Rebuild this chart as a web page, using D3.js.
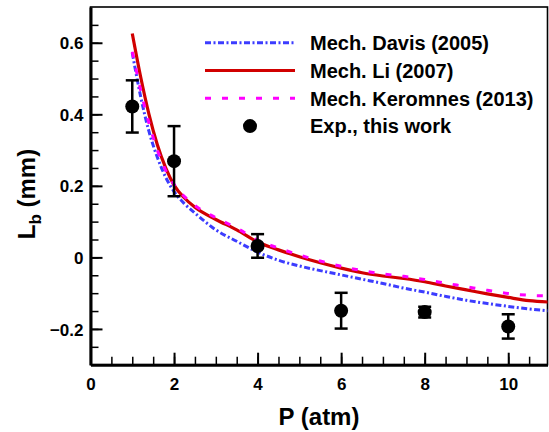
<!DOCTYPE html>
<html>
<head>
<meta charset="utf-8">
<script src="https://cdn.jsdelivr.net/npm/d3@7"></script>
<style>
  html, body { margin: 0; padding: 0; background: #fff; }
  svg { display: block; font-family: Arial, "Liberation Sans", Helvetica, sans-serif; font-weight: bold; }
</style>
</head>
<body>
<svg id="chart" width="549" height="432"></svg>
<script>
// Pressure grid (atm) for the model curves
const pressure = [1.0, 1.2, 1.4, 1.6, 1.8, 2.0, 2.25, 2.5, 3.0, 3.5, 4.0, 4.5, 5.0, 5.5, 6.0, 6.5, 7.0, 7.5, 8.0, 8.5, 9.0, 9.5, 10.0, 10.5, 11.0];

// Markstein length Lb (mm) predicted by each mechanism
const davis2005    = [0.572, 0.450, 0.352, 0.280, 0.224, 0.184, 0.150, 0.124, 0.077, 0.045, 0.015, -0.008, -0.024, -0.037, -0.049, -0.061, -0.073, -0.086, -0.097, -0.109, -0.120, -0.129, -0.137, -0.144, -0.150];
const li2007       = [0.626, 0.505, 0.400, 0.315, 0.250, 0.202, 0.166, 0.140, 0.106, 0.077, 0.043, 0.021, 0.002, -0.015, -0.030, -0.043, -0.052, -0.059, -0.068, -0.080, -0.091, -0.102, -0.112, -0.121, -0.125];
const keromnes2013 = [0.575, 0.468, 0.375, 0.300, 0.243, 0.204, 0.170, 0.145, 0.111, 0.082, 0.048, 0.026, 0.007, -0.010, -0.025, -0.037, -0.046, -0.053, -0.062, -0.072, -0.082, -0.092, -0.101, -0.106, -0.108];

// Measurements with their uncertainties
const expP   = [1, 2, 4, 6, 8, 10];
const expLb  = [0.422, 0.269, 0.032, -0.149, -0.153, -0.193];
const expErr = [0.073, 0.098, 0.033, 0.050, 0.015, 0.034];

const xTicks = [0, 2, 4, 6, 8, 10];
const yTicks = [-0.2, 0, 0.2, 0.4, 0.6];
const legendLabels = ["Mech. Davis (2005)", "Mech. Li (2007)", "Mech. Keromnes (2013)", "Exp., this work"];

const svg = d3.select("#chart");
const plotLeft = 90.5, plotRight = 547.5, plotTop = 7, plotBottom = 364.7;

const x = d3.scaleLinear().domain([0, 10.94]).range([plotLeft, plotRight]);
const y = d3.scaleLinear().domain([-0.3, 0.7]).range([plotBottom, plotTop]);

// Plot frame: thin top/right, heavy left/bottom axes
svg.append("rect")
  .attr("x", plotLeft).attr("y", plotTop)
  .attr("width", plotRight - plotLeft).attr("height", plotBottom - plotTop)
  .attr("fill", "none").attr("stroke", "#000").attr("stroke-width", 1.6);

svg.append("defs").append("clipPath").attr("id", "plot-clip")
  .append("rect").attr("x", plotLeft).attr("y", plotTop)
  .attr("width", plotRight - plotLeft).attr("height", plotBottom - plotTop);

// Minor ticks
svg.append("g").attr("transform", `translate(0,${plotBottom})`)
  .call(d3.axisBottom(x).tickValues(d3.range(0, 11, 0.5)).tickSize(-8).tickSizeOuter(0).tickFormat(""))
  .call(g => g.select(".domain").remove())
  .call(g => g.selectAll(".tick line").attr("stroke", "#000").attr("stroke-width", 1.5));
svg.append("g").attr("transform", `translate(${plotLeft},0)`)
  .call(d3.axisLeft(y).tickValues(d3.range(-0.25, 0.7, 0.05)).tickSize(-8).tickSizeOuter(0).tickFormat(""))
  .call(g => g.select(".domain").remove())
  .call(g => g.selectAll(".tick line").attr("stroke", "#000").attr("stroke-width", 1.5));

// Major ticks with labels
const xAxis = svg.append("g").attr("transform", `translate(0,${plotBottom})`)
  .call(d3.axisBottom(x).tickValues(xTicks).tickSize(-12).tickSizeOuter(0).tickFormat(d3.format("d")));
const yAxis = svg.append("g").attr("transform", `translate(${plotLeft},0)`)
  .call(d3.axisLeft(y).tickValues(yTicks).tickSize(-12).tickSizeOuter(0)
    .tickFormat(d => d === 0 ? "0" : d3.format(".1f")(d)));

[xAxis, yAxis].forEach(g => {
  g.select(".domain").attr("stroke", "#000").attr("stroke-width", 3);
  g.selectAll(".tick line").attr("stroke", "#000").attr("stroke-width", 2);
  g.selectAll(".tick text").attr("fill", "#000")
    .style("font-family", "Arial, 'Liberation Sans', sans-serif")
    .style("font-weight", "bold").style("font-size", "17px");
});
xAxis.selectAll(".tick text").attr("dy", null).attr("y", 25);
yAxis.selectAll(".tick text").attr("x", -7).attr("dy", "0.36em");

// Axis titles
svg.append("text")
  .attr("x", (plotLeft + plotRight) / 2).attr("y", 425)
  .attr("text-anchor", "middle")
  .style("font-size", "24px")
  .text("P (atm)");

const yTitle = svg.append("text")
  .attr("transform", "translate(35,194) rotate(-90)")
  .attr("text-anchor", "middle")
  .style("font-size", "24px");
yTitle.append("tspan").text("L");
yTitle.append("tspan").attr("dy", 6).style("font-size", "17px").text("b");
yTitle.append("tspan").attr("dy", -6).text(" (mm)");

// Model curves
const series = [
  { values: davis2005, color: "#3c3cff", width: 3, dash: "6,2.5,2,2.5" },
  { values: li2007, color: "#d10000", width: 3.2, dash: null },
  { values: keromnes2013, color: "#ff00ff", width: 3, dash: "6,11" }
];

const line = d3.line()
  .x(d => x(d[0])).y(d => y(d[1]))
  .curve(d3.curveMonotoneX);

const curves = svg.append("g").attr("clip-path", "url(#plot-clip)");
series.forEach(s => {
  curves.append("path")
    .datum(pressure.map((p, i) => [p, s.values[i]]))
    .attr("d", line)
    .attr("fill", "none")
    .attr("stroke", s.color)
    .attr("stroke-width", s.width)
    .attr("stroke-dasharray", s.dash);
});

// Experimental points with error bars
const exp = expP.map((p, i) => ({ p, v: expLb[i], e: expErr[i] }));
const pts = svg.append("g");
pts.selectAll("line.bar").data(exp).join("line")
  .attr("x1", d => x(d.p)).attr("x2", d => x(d.p))
  .attr("y1", d => y(d.v + d.e)).attr("y2", d => y(d.v - d.e))
  .attr("stroke", "#000").attr("stroke-width", 2.5);
pts.selectAll("line.capTop").data(exp).join("line")
  .attr("x1", d => x(d.p) - 6.5).attr("x2", d => x(d.p) + 6.5)
  .attr("y1", d => y(d.v + d.e)).attr("y2", d => y(d.v + d.e))
  .attr("stroke", "#000").attr("stroke-width", 2.5);
pts.selectAll("line.capBot").data(exp).join("line")
  .attr("x1", d => x(d.p) - 6.5).attr("x2", d => x(d.p) + 6.5)
  .attr("y1", d => y(d.v - d.e)).attr("y2", d => y(d.v - d.e))
  .attr("stroke", "#000").attr("stroke-width", 2.5);
pts.selectAll("circle").data(exp).join("circle")
  .attr("cx", d => x(d.p)).attr("cy", d => y(d.v)).attr("r", 7)
  .attr("fill", "#000");

// Legend
const legend = svg.append("g");
const rowY = i => 42.7 + i * 27.8;
legendLabels.forEach((label, i) => {
  const cy = rowY(i);
  if (i < 3) {
    const s = series[i];
    legend.append("line")
      .attr("x1", 205).attr("x2", 295).attr("y1", cy).attr("y2", cy)
      .attr("stroke", s.color).attr("stroke-width", s.width)
      .attr("stroke-dasharray", s.dash);
  } else {
    legend.append("circle").attr("cx", 250).attr("cy", cy).attr("r", 7).attr("fill", "#000");
  }
  legend.append("text")
    .attr("x", 310).attr("y", cy + 7.3)
    .style("font-size", "20px")
    .text(label);
});
</script>
</body>
</html>
